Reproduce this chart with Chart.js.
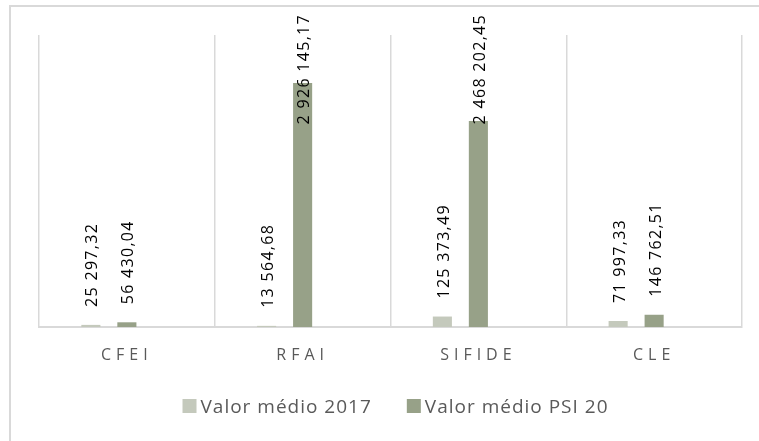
<!DOCTYPE html>
<html>
<head>
<meta charset="utf-8">
<script src="https://cdn.jsdelivr.net/npm/chart.js@4/dist/chart.umd.min.js"></script>
<style>
  html, body { margin: 0; padding: 0; background: #fff; overflow: hidden; }
  #frame {
    position: absolute; left: 9px; top: 5px;
    width: 780px; height: 470px;
    border: 2px solid #d9d9d9; box-sizing: border-box;
  }
  #wrap { position: absolute; left: 0; top: 0; width: 759px; height: 441px; }
</style>
</head>
<body>
<div id="frame"></div>
<div id="wrap"><canvas id="chart" width="759" height="441"></canvas></div>
<script>
const categories = ['CFEI', 'RFAI', 'SIFIDE', 'CLE'];
const seriesNames = ['Valor médio 2017', 'Valor médio PSI 20'];
const valorMedio2017 = [25297.32, 13564.68, 125373.49, 71997.33];
const valorMedioPSI20 = [56430.04, 2926145.17, 2468202.45, 146762.51];
// third slot of each cluster is left empty
const emptySeries = [null, null, null, null];
const axisMax = 3500000;

const LIGHT = '#c4c9bc';
const GREEN = '#97a188';

// 2926145.17 -> "2 926 145,17"
function formatPt(v) {
    const parts = v.toFixed(2).split('.');
    return parts[0].replace(/\B(?=(\d{3})+(?!\d))/g, ' ') + ',' + parts[1];
}

const valueLabels = {
    id: 'valueLabels',
    afterDatasetsDraw(chart) {
        const ctx = chart.ctx;
        ctx.save();
        ctx.font = '16px "Open Sans"';
        ctx.letterSpacing = '1.3px';
        ctx.fillStyle = '#000';
        ctx.textAlign = 'left';
        ctx.textBaseline = 'middle';
        chart.data.datasets.forEach((ds, i) => {
            const meta = chart.getDatasetMeta(i);
            meta.data.forEach((bar, j) => {
                const v = ds.data[j];
                if (v == null) return;
                const text = formatPt(v);
                const w = ctx.measureText(text).width;
                let start = bar.y - 18;
                if (start - w < 14) start = 14 + w;   // keep inside the frame
                ctx.save();
                ctx.translate(bar.x + 2, start);
                ctx.rotate(-Math.PI / 2);
                ctx.fillText(text, 0, 0);
                ctx.restore();
            });
        });
        ctx.restore();
    }
};

const categoryLabels = {
    id: 'categoryLabels',
    afterDraw(chart) {
        const ctx = chart.ctx;
        const xScale = chart.scales.x;
        ctx.save();
        ctx.font = '16px "Open Sans"';
        ctx.letterSpacing = '5px';
        ctx.fillStyle = '#595959';
        ctx.textAlign = 'center';
        ctx.textBaseline = 'alphabetic';
        categories.forEach((c, i) => {
            ctx.fillText(c, xScale.getPixelForValue(i), 360);
        });
        ctx.restore();
    }
};

const bottomLegend = {
    id: 'bottomLegend',
    afterDraw(chart) {
        const ctx = chart.ctx;
        const area = chart.chartArea;
        ctx.save();
        ctx.font = '19px "Open Sans"';
        ctx.letterSpacing = '1px';
        ctx.textBaseline = 'alphabetic';
        ctx.textAlign = 'left';
        const items = chart.data.datasets
            .filter(ds => ds.label)
            .map(ds => ({ label: ds.label, color: ds.backgroundColor, w: ctx.measureText(ds.label).width }));
        const box = 14, gap = 4, itemGap = 35;
        const total = items.reduce((s, it) => s + box + gap + it.w, 0) + itemGap * (items.length - 1);
        let x = (area.left + area.right) / 2 + 5 - total / 2;
        items.forEach(it => {
            ctx.fillStyle = it.color;
            ctx.fillRect(x, 399, box, box);
            ctx.fillStyle = '#595959';
            ctx.fillText(it.label, x + box + gap, 413);
            x += box + gap + it.w + itemGap;
        });
        ctx.restore();
    }
};

new Chart(document.getElementById('chart'), {
    type: 'bar',
    data: {
        labels: categories,
        datasets: [
            { label: seriesNames[0], data: valorMedio2017, backgroundColor: LIGHT },
            { label: seriesNames[1], data: valorMedioPSI20, backgroundColor: GREEN },
            { label: '', data: emptySeries, backgroundColor: 'transparent' }
        ]
    },
    options: {
        responsive: false,
        animation: false,
        devicePixelRatio: 1,
        categoryPercentage: 0.6145,
        barPercentage: 0.53,
        layout: { padding: { left: 39, right: 17, top: 35, bottom: 114 } },
        plugins: {
            legend: { display: false },
            tooltip: { enabled: false }
        },
        scales: {
            x: {
                grid: { color: '#d9d9d9', lineWidth: 1.5, drawTicks: false, offset: true },
                border: { color: '#d9d9d9', width: 2 },
                ticks: { display: false },
                afterFit(scale) { scale.height = 0; }
            },
            y: {
                display: false,
                min: 0,
                max: axisMax
            }
        }
    },
    plugins: [valueLabels, categoryLabels, bottomLegend]
});
</script>
</body>
</html>
